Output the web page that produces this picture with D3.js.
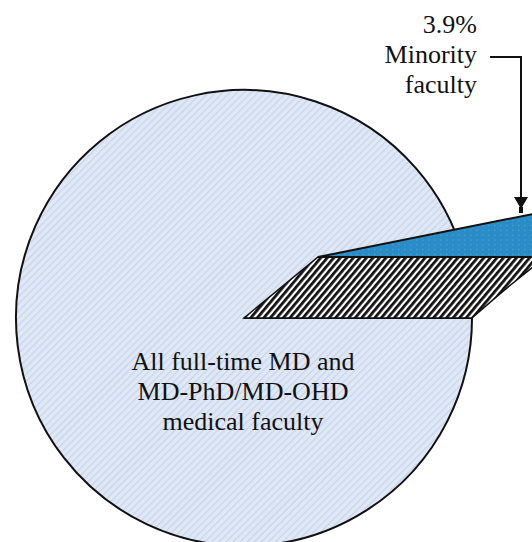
<!DOCTYPE html>
<html>
<head>
<meta charset="utf-8">
<script src="https://d3js.org/d3.v7.min.js"></script>
<style>
  body { margin: 0; background: #fff; }
  text { font-family: "Liberation Serif", "Times New Roman", serif; fill: #111; }
</style>
</head>
<body>
<div id="chart"></div>
<script>
var groups = ["Minority faculty", "All full-time MD and MD-PhD/MD-OHD medical faculty"];
var shares = [3.9, 96.1];
var minorityLabel = ["3.9%", "Minority", "faculty"];
var mainLabel = ["All full-time MD and", "MD-PhD/MD-OHD", "medical faculty"];

var svgWidth = 532;
var svgHeight = 542;

var cx = 244, cy = 318, radius = 228;
// how far the minority slice is lifted out, and its tilt
var liftX = 74, liftY = -61, tilt = 0.8;

var svg = d3.select("#chart")
	.append("svg")
	.attr("width", svgWidth)
	.attr("height", svgHeight);

var defs = svg.append("defs");

// faint hatching on the big slice
var pMain = defs.append("pattern")
	.attr("id", "mainFill")
	.attr("patternUnits", "userSpaceOnUse")
	.attr("width", 5).attr("height", 5)
	.attr("patternTransform", "rotate(45)");
pMain.append("rect").attr("width", 5).attr("height", 5).attr("fill", "#dde9f5");
pMain.append("rect").attr("width", 1.2).attr("height", 5).attr("fill", "#cfd0ec");

// dotted blue on the minority slice
var pBlue = defs.append("pattern")
	.attr("id", "blueFill")
	.attr("patternUnits", "userSpaceOnUse")
	.attr("width", 6).attr("height", 6);
pBlue.append("rect").attr("width", 6).attr("height", 6).attr("fill", "#2a8cc6");
pBlue.append("rect").attr("x", 2).attr("y", 2).attr("width", 1.5).attr("height", 1.5).attr("fill", "#4aa0d4");

// black and white stripes on the side of the slice
var pStripe = defs.append("pattern")
	.attr("id", "stripeFill")
	.attr("patternUnits", "userSpaceOnUse")
	.attr("width", 5).attr("height", 10)
	.attr("patternTransform", "rotate(40)");
pStripe.append("rect").attr("width", 5).attr("height", 10).attr("fill", "#fff");
pStripe.append("rect").attr("width", 2.8).attr("height", 10).attr("fill", "#111");

var pie = d3.pie()
	.sort(null)
	.startAngle(Math.PI / 2 - 2 * Math.PI * shares[0] / 100)
	.endAngle(Math.PI / 2 - 2 * Math.PI * shares[0] / 100 + 2 * Math.PI);

var slices = pie(shares);

var arc = d3.arc()
	.innerRadius(0)
	.outerRadius(radius);

// big slice
svg.append("path")
	.attr("transform", `translate(${cx}, ${cy})`)
	.attr("d", arc(slices[1]))
	.attr("fill", "url(#mainFill)")
	.attr("stroke", "#111")
	.attr("stroke-width", 2);

// side of the lifted slice: from its old bottom edge to its new one
var a0 = slices[0].endAngle;
var ox = radius * Math.sin(a0), oy = -radius * Math.cos(a0) * tilt;
var side = d3.path();
side.moveTo(cx, cy);
side.lineTo(cx + ox, cy + oy);
side.quadraticCurveTo(cx + ox + liftX * 0.58, cy + oy + liftY * 0.62,
	cx + liftX + ox, cy + liftY + oy);
side.lineTo(cx + liftX, cy + liftY);
side.closePath();

svg.append("path")
	.attr("d", side.toString())
	.attr("fill", "url(#stripeFill)")
	.attr("stroke", "#111")
	.attr("stroke-width", 1.5);

// lifted minority slice
svg.append("path")
	.attr("transform", `translate(${cx + liftX}, ${cy + liftY}) scale(1, ${tilt})`)
	.attr("d", arc(slices[0]))
	.attr("fill", "url(#blueFill)")
	.attr("stroke", "#111")
	.attr("stroke-width", 2)
	.attr("vector-effect", "non-scaling-stroke");

// labels
svg.append("g")
	.selectAll("text")
	.data(mainLabel)
	.enter()
	.append("text")
	.attr("x", 243)
	.attr("y", (d, i) => 370 + i * 30)
	.attr("text-anchor", "middle")
	.attr("font-size", 26)
	.text(d => d);

svg.append("g")
	.selectAll("text")
	.data(minorityLabel)
	.enter()
	.append("text")
	.attr("x", 477)
	.attr("y", (d, i) => 33 + i * 30)
	.attr("text-anchor", "end")
	.attr("font-size", 26)
	.text(d => d);

// leader with arrow
svg.append("path")
	.attr("d", "M490,57 H521 V200")
	.attr("fill", "none")
	.attr("stroke", "#111")
	.attr("stroke-width", 2);

svg.append("path")
	.attr("d", "M514,197 L528,197 L521,209 Z")
	.attr("fill", "#111");
svg.append("rect")
	.attr("x", 519).attr("y", 207).attr("width", 4).attr("height", 6)
	.attr("fill", "#111");
</script>
</body>
</html>
